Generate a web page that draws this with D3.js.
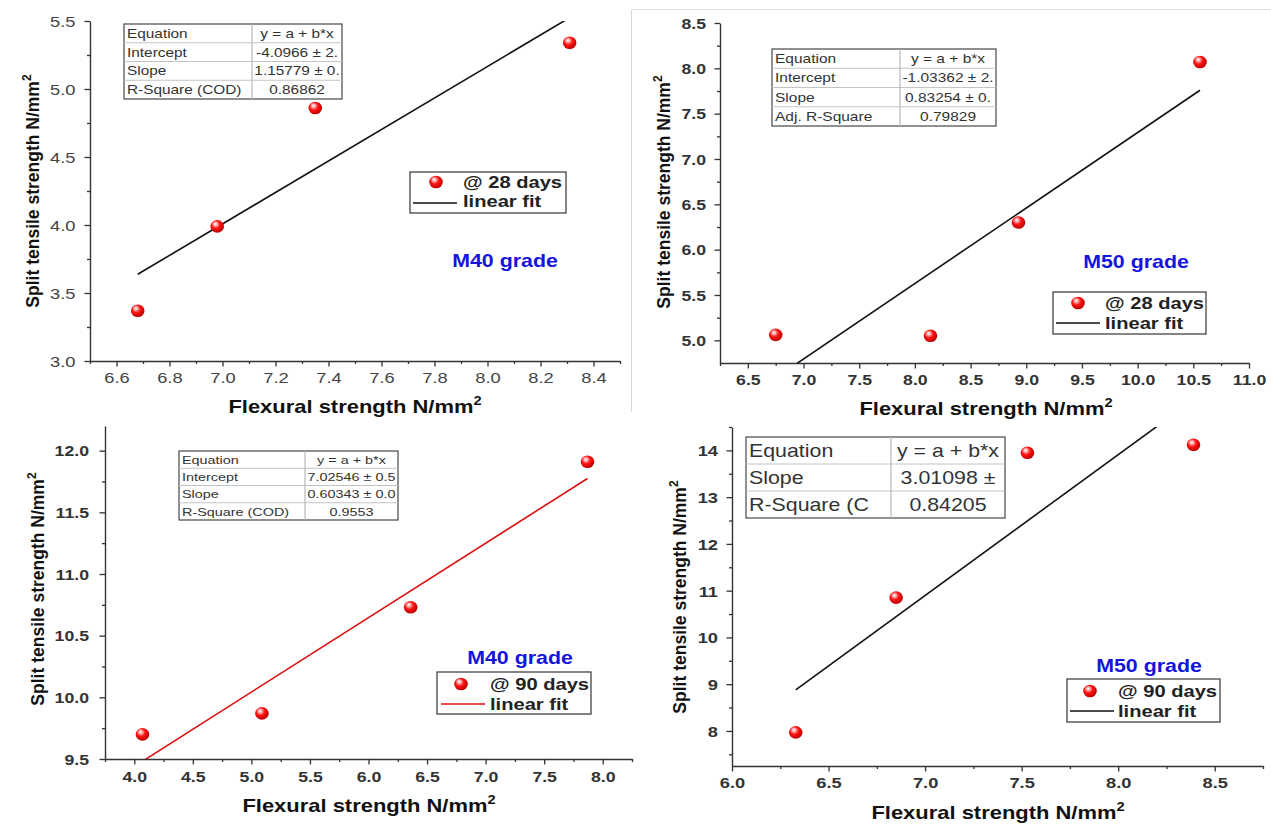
<!DOCTYPE html>
<html><head><meta charset="utf-8">
<script src="https://cdn.jsdelivr.net/npm/d3@7"></script>
<style>
body{margin:0;background:#fff;}
svg{display:block;}
text{font-family:"Liberation Sans", Arial, sans-serif;}
</style>
</head><body>
<svg id="chart" width="1271" height="824"></svg>
<script>
// ---------------- DATA ----------------
const flexM40d28  = [6.68, 6.98, 7.35, 8.31];
const splitM40d28 = [3.37, 3.99, 4.86, 5.34];
const flexM50d28  = [6.75, 8.14, 8.93, 10.56];
const splitM50d28 = [5.06, 5.05, 6.30, 8.07];
const flexM40d90  = [4.07, 5.09, 6.36, 7.87];
const splitM40d90 = [9.70, 9.87, 10.73, 11.91];
const flexM50d90  = [6.33, 6.85, 7.53, 8.39];
const splitM50d90 = [7.97, 10.85, 13.95, 14.12];

const fitIntercepts = [-4.0966, -1.03362, 7.02546, -10.18];
const fitSlopes     = [1.15779, 0.83254, 0.60343, 3.01098];

const tableM40d28 = [["Equation","y = a + b*x"],["Intercept","-4.0966 ± 2."],["Slope","1.15779 ± 0."],["R-Square (COD)","0.86862"]];
const tableM50d28 = [["Equation","y = a + b*x"],["Intercept","-1.03362 ± 2."],["Slope","0.83254 ± 0."],["Adj. R-Square","0.79829"]];
const tableM40d90 = [["Equation","y = a + b*x"],["Intercept","7.02546 ± 0.5"],["Slope","0.60343 ± 0.0"],["R-Square (COD)","0.9553"]];
const tableM50d90 = [["Equation","y = a + b*x"],["Slope","3.01098 ±"],["R-Square (C","0.84205"]];

const legendSeries = ["@ 28 days", "@ 28 days", "@ 90 days", "@ 90 days"];
const legendFit = "linear fit";
const gradeLabels = ["M40 grade", "M50 grade", "M40 grade", "M50 grade"];
const xTitle = "Flexural strength N/mm";
const yTitle = "Split tensile strength N/mm";
const unitSup = "2";

const xTicksP1 = [6.6, 6.8, 7.0, 7.2, 7.4, 7.6, 7.8, 8.0, 8.2, 8.4];
const xMinorP1 = [6.5, 6.7, 6.9, 7.1, 7.3, 7.5, 7.7, 7.9, 8.1, 8.3, 8.5];
const yTicksP1 = [3.0, 3.5, 4.0, 4.5, 5.0, 5.5];
const yMinorP1 = [3.25, 3.75, 4.25, 4.75, 5.25];

const xTicksP2 = [6.5, 7.0, 7.5, 8.0, 8.5, 9.0, 9.5, 10.0, 10.5, 11.0];
const xMinorP2 = [6.25, 6.75, 7.25, 7.75, 8.25, 8.75, 9.25, 9.75, 10.25, 10.75];
const yTicksP2 = [5.0, 5.5, 6.0, 6.5, 7.0, 7.5, 8.0, 8.5];
const yMinorP2 = [5.25, 5.75, 6.25, 6.75, 7.25, 7.75, 8.25];

const xTicksP3 = [4.0, 4.5, 5.0, 5.5, 6.0, 6.5, 7.0, 7.5, 8.0];
const xMinorP3 = [3.75, 4.25, 4.75, 5.25, 5.75, 6.25, 6.75, 7.25, 7.75, 8.25];
const yTicksP3 = [9.5, 10.0, 10.5, 11.0, 11.5, 12.0];
const yMinorP3 = [9.75, 10.25, 10.75, 11.25, 11.75];

const xTicksP4 = [6.0, 6.5, 7.0, 7.5, 8.0, 8.5];
const xMinorP4 = [6.25, 6.75, 7.25, 7.75, 8.25, 8.75];
const yTicksP4 = [8, 9, 10, 11, 12, 13, 14];
const yMinorP4 = [7.5, 8.5, 9.5, 10.5, 11.5, 12.5, 13.5, 14.5];

// ---------------- LAYOUT ----------------
const SX = 1.22; // horizontal text stretch of the reference
const panels = [
  {L:90, R:620, T:21, B:361, xd:[6.5,8.5], yd:[3.0,5.5],
   fx:flexM40d28, fy:splitM40d28, xt:xTicksP1, xm:xMinorP1, yt:yTicksP1, ym:yMinorP1, yfmt:".1f",
   tickBold:false, tickSize:15, tickColor:"#444", xPad:6, yOff:14.5, fitColor:"#111",
   xTitle:[355,413], yTitle:[39,191],
   table:tableM40d28, tb:{x:124,y:24,w:218,h:75,div:252,fs:12.6},
   leg:{x:410,y:172,w:156,h:41,dot:[436,182],tx:463,b1:188,b2:207,ln:[413,457,203],lab:legendSeries[0]},
   grade:[505,267,gradeLabels[0]]},
  {L:720, R:1249, T:23, B:363, xd:[6.25,11.0], yd:[4.75,8.5],
   fx:flexM50d28, fy:splitM50d28, xt:xTicksP2, xm:xMinorP2, yt:yTicksP2, ym:yMinorP2, yfmt:".1f",
   tickBold:true, tickSize:14.5, tickColor:"#333", xPad:6, yOff:14, fitColor:"#111",
   xTitle:[986,415], yTitle:[670,192],
   table:tableM50d28, tb:{x:772,y:49,w:224,h:77,div:900,fs:12.7},
   leg:{x:1053,y:292,w:153,h:42,dot:[1078,303],tx:1105,b1:309,b2:329,ln:[1056,1100,323],lab:legendSeries[1]},
   grade:[1136,268,gradeLabels[1]]},
  {L:105, R:632, T:426, B:759, xd:[3.75,8.25], yd:[9.5,12.2],
   fx:flexM40d90, fy:splitM40d90, xt:xTicksP3, xm:xMinorP3, yt:yTicksP3, ym:yMinorP3, yfmt:".1f",
   tickBold:true, tickSize:14.5, tickColor:"#333", xPad:7, yOff:16, fitColor:"#dd1111",
   xTitle:[369,812], yTitle:[44,589],
   table:tableM40d90, tb:{x:179,y:451,w:219,h:69,div:305,fs:11.8},
   leg:{x:437,y:672,w:154,h:42,dot:[461,684],tx:490,b1:690,b2:710,ln:[441,485,704],lab:legendSeries[2]},
   grade:[520,664,gradeLabels[2]]},
  {L:732, R:1263, T:427, B:766, xd:[6.0,8.75], yd:[7.25,14.5],
   fx:flexM50d90, fy:splitM50d90, xt:xTicksP4, xm:xMinorP4, yt:yTicksP4, ym:yMinorP4, yfmt:"d",
   tickBold:true, tickSize:15, tickColor:"#333", xPad:6, yOff:14, fitColor:"#111",
   xTitle:[998,819], yTitle:[686,597],
   table:tableM50d90, tb:{x:746,y:437,w:259,h:81,div:891,fs:17.5},
   leg:{x:1067,y:679,w:153,h:43,dot:[1090,691],tx:1118,b1:697,b2:717,ln:[1070,1114,711],lab:legendSeries[3]},
   grade:[1149,672,gradeLabels[3]]}
];

// ---------------- DRAW ----------------
const svg = d3.select("#chart");
const defs = svg.append("defs");
const grad = defs.append("radialGradient").attr("id","sphere")
  .attr("cx","0.42").attr("cy","0.4").attr("r","0.62").attr("fx","0.36").attr("fy","0.3");
grad.append("stop").attr("offset","0").attr("stop-color","#ffffff");
grad.append("stop").attr("offset","0.2").attr("stop-color","#ffb4b4");
grad.append("stop").attr("offset","0.5").attr("stop-color","#ff1414");
grad.append("stop").attr("offset","1").attr("stop-color","#b80000");

// faint frame of the pasted top-right image
svg.append("line").attr("x1",631.5).attr("x2",631.5).attr("y1",9).attr("y2",412).attr("stroke","#d8d8d8").attr("stroke-width",1);
svg.append("line").attr("x1",631).attr("x2",1271).attr("y1",9.5).attr("y2",9.5).attr("stroke","#e2e2e2").attr("stroke-width",1);

function stretchedText(g, x, y, str, o) {
  const t = g.append("text")
    .attr("transform", `translate(${x},${y}) scale(${o.sx || SX},1)`)
    .attr("text-anchor", o.anchor || "start")
    .attr("font-size", o.size)
    .attr("font-weight", o.bold ? "bold" : "normal")
    .attr("fill", o.fill || "#222")
    .text(str);
  return t;
}

function sphere(g, cx, cy) {
  g.append("ellipse").attr("cx", cx).attr("cy", cy).attr("rx", 6.8).attr("ry", 6.3)
    .attr("fill", "url(#sphere)");
}

panels.forEach((p, i) => {
  const g = svg.append("g");
  const x = d3.scaleLinear().domain(p.xd).range([p.L, p.R]);
  const y = d3.scaleLinear().domain(p.yd).range([p.B, p.T]);

  // minor ticks
  g.append("g").attr("transform", `translate(0,${p.B})`)
    .call(d3.axisBottom(x).tickValues(p.xm).tickSize(3).tickSizeOuter(0).tickFormat(""))
    .call(a => a.select(".domain").remove());
  g.append("g").attr("transform", `translate(${p.L},0)`)
    .call(d3.axisLeft(y).tickValues(p.ym).tickSize(3).tickSizeOuter(0).tickFormat(""))
    .call(a => a.select(".domain").remove());

  // major axes
  const xa = g.append("g").attr("transform", `translate(0,${p.B})`)
    .call(d3.axisBottom(x).tickValues(p.xt).tickSize(5.5).tickSizeOuter(0).tickPadding(p.xPad).tickFormat(d3.format(".1f")));
  const ya = g.append("g").attr("transform", `translate(${p.L},0)`)
    .call(d3.axisLeft(y).tickValues(p.yt).tickSize(5.5).tickSizeOuter(0).tickFormat(d3.format(p.yfmt)));

  [xa, ya].forEach(a => {
    a.select(".domain").attr("stroke", "#333").attr("stroke-width", 1.4);
    a.selectAll(".tick line").attr("stroke", "#333").attr("stroke-width", 1.3);
    a.selectAll(".tick text")
      .attr("font-family", "'Liberation Sans', Arial, sans-serif")
      .attr("font-size", p.tickSize)
      .attr("font-weight", p.tickBold ? "bold" : "normal")
      .attr("fill", p.tickColor);
  });
  xa.selectAll(".tick text").attr("transform", `scale(${SX},1)`);
  ya.selectAll(".tick text").attr("x", -p.yOff / SX).attr("dy", "0.36em").attr("transform", `scale(${SX},1)`);
  g.selectAll(".tick line").attr("stroke", "#333").attr("stroke-width", 1.3);

  // axis titles
  const xt = stretchedText(g, p.xTitle[0], p.xTitle[1], xTitle, {size:18, bold:true, anchor:"middle", fill:"#111"});
  xt.append("tspan").attr("dy", -8).attr("font-size", 12).text(unitSup);
  const yt = g.append("text")
    .attr("transform", `translate(${p.yTitle[0]},${p.yTitle[1]}) rotate(-90)`)
    .attr("text-anchor", "middle").attr("font-size", 17.5).attr("font-weight", "bold").attr("fill", "#111")
    .text(yTitle);
  yt.append("tspan").attr("dy", -8).attr("font-size", 12).text(unitSup);

  // fit line (clipped to plot area)
  const cid = "clip" + i;
  defs.append("clipPath").attr("id", cid).append("rect")
    .attr("x", p.L).attr("y", p.T).attr("width", p.R - p.L).attr("height", p.B - p.T);
  const x0 = d3.min(p.fx), x1 = d3.max(p.fx);
  const fitPts = [x0, x1].map(v => [v, fitIntercepts[i] + fitSlopes[i] * v]);
  g.append("path").attr("clip-path", `url(#${cid})`)
    .attr("d", d3.line().x(d => x(d[0])).y(d => y(d[1]))(fitPts))
    .attr("fill", "none").attr("stroke", p.fitColor).attr("stroke-width", 1.6);

  // data points
  p.fx.forEach((v, k) => sphere(g, x(v), y(p.fy[k])));

  // parameter table
  const tb = p.tb, n = p.table.length, rh = tb.h / n;
  const tg = g.append("g");
  tg.append("rect").attr("x", tb.x).attr("y", tb.y).attr("width", tb.w).attr("height", tb.h)
    .attr("fill", "#fff").attr("stroke", "#555").attr("stroke-width", 1.3);
  for (let r = 1; r < n; r++) {
    tg.append("line").attr("x1", tb.x).attr("x2", tb.x + tb.w).attr("y1", tb.y + r * rh).attr("y2", tb.y + r * rh)
      .attr("stroke", "#c4c4c4").attr("stroke-width", 1);
  }
  tg.append("line").attr("x1", tb.div).attr("x2", tb.div).attr("y1", tb.y).attr("y2", tb.y + tb.h)
    .attr("stroke", "#b8b8b8").attr("stroke-width", 1.2);
  p.table.forEach((row, r) => {
    const base = tb.y + r * rh + rh * 0.5 + tb.fs * 0.36;
    stretchedText(tg, tb.x + 3, base, row[0], {size: tb.fs, fill:"#333"});
    stretchedText(tg, (tb.div + tb.x + tb.w) / 2, base, row[1], {size: tb.fs, fill:"#333", anchor:"middle"});
  });

  // legend
  const L = p.leg;
  g.append("rect").attr("x", L.x).attr("y", L.y).attr("width", L.w).attr("height", L.h)
    .attr("fill", "#fff").attr("stroke", "#444").attr("stroke-width", 1.3);
  sphere(g, L.dot[0], L.dot[1]);
  g.append("line").attr("x1", L.ln[0]).attr("x2", L.ln[1]).attr("y1", L.ln[2]).attr("y2", L.ln[2])
    .attr("stroke", p.fitColor).attr("stroke-width", 1.6);
  stretchedText(g, L.tx, L.b1, L.lab, {size:16.5, bold:true, fill:"#222"});
  stretchedText(g, L.tx, L.b2, legendFit, {size:16.5, bold:true, fill:"#222"});

  // grade label
  stretchedText(g, p.grade[0], p.grade[1], p.grade[2], {size:17.5, bold:true, fill:"#1414e0", anchor:"middle"});
});
</script>
</body></html>
